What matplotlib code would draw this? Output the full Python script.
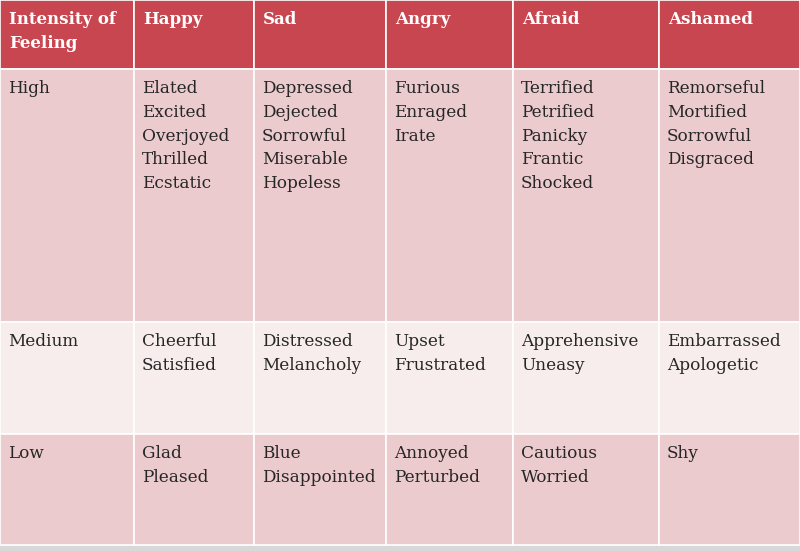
import matplotlib
matplotlib.use("Agg")
import matplotlib.pyplot as plt
from matplotlib.patches import Rectangle

headers = ["Intensity of\nFeeling", "Happy", "Sad", "Angry", "Afraid", "Ashamed"]
levels = ["High", "Medium", "Low"]
happy = [["Elated", "Excited", "Overjoyed", "Thrilled", "Ecstatic"], ["Cheerful", "Satisfied"], ["Glad", "Pleased"]]
sad = [["Depressed", "Dejected", "Sorrowful", "Miserable", "Hopeless"], ["Distressed", "Melancholy"], ["Blue", "Disappointed"]]
angry = [["Furious", "Enraged", "Irate"], ["Upset", "Frustrated"], ["Annoyed", "Perturbed"]]
afraid = [["Terrified", "Petrified", "Panicky", "Frantic", "Shocked"], ["Apprehensive", "Uneasy"], ["Cautious", "Worried"]]
ashamed = [["Remorseful", "Mortified", "Sorrowful", "Disgraced"], ["Embarrassed", "Apologetic"], ["Shy"]]

col_edges = [0, 134, 254, 386, 513, 659, 800]
row_edges = [0, 69, 322, 434, 545]
row_colors = ["#C8464F", "#EBCBCD", "#F7EDED", "#EBCBCD"]

fig = plt.figure(figsize=(8, 5.51), dpi=100)
ax = fig.add_axes([0, 0, 1, 1])
ax.set_xlim(0, 800)
ax.set_ylim(551, 0)
ax.axis("off")
fig.patch.set_facecolor("#D8D8D8")

cols = [None, happy, sad, angry, afraid, ashamed]
font = "DejaVu Serif"
for r in range(4):
    y0, y1 = row_edges[r], row_edges[r + 1]
    for c in range(6):
        x0, x1 = col_edges[c], col_edges[c + 1]
        ax.add_patch(Rectangle((x0, y0), x1 - x0, y1 - y0, facecolor=row_colors[r],
                               edgecolor="white", linewidth=1.2))
        if r == 0:
            ax.text(x0 + 9, y0 + 11, headers[c], color="white", fontweight="bold",
                    fontsize=12, family=font, va="top", ha="left", linespacing=1.5)
        else:
            words = [levels[r - 1]] if c == 0 else cols[c][r - 1]
            ax.text(x0 + 8, y0 + 11, "\n".join(words), color="#262626", fontsize=12.2,
                    family=font, va="top", ha="left", linespacing=1.52)

fig.savefig("out.png", dpi=100, facecolor=fig.get_facecolor())
